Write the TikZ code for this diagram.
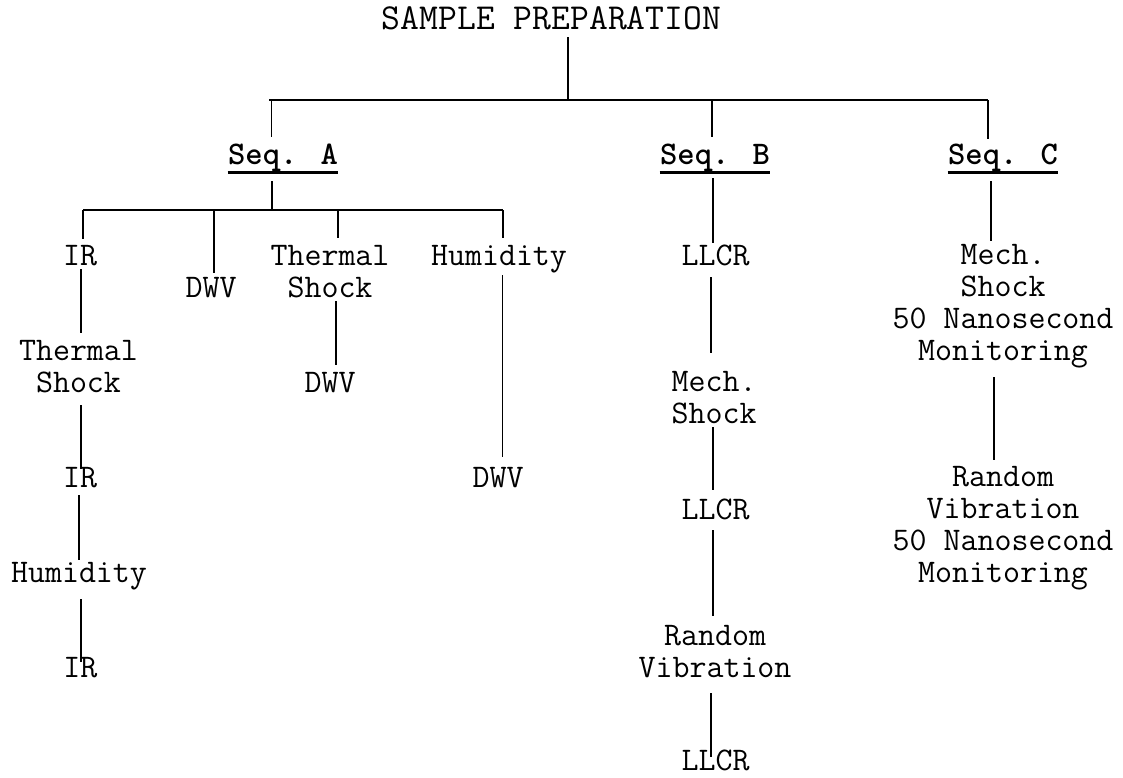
\documentclass[tikz,border=0pt]{standalone}
\usepackage{fontspec}
\usetikzlibrary{calc}
\tikzset{
  lbl/.style={anchor=base, inner sep=0pt, outer sep=0pt, align=center,
    font=\ttfamily\fontsize{33}{31.7}\selectfont},
  ttl/.style={lbl, font=\ttfamily\fontsize{36.6}{40}\selectfont},
  seq/.style={lbl, font=\ttfamily\bfseries\fontsize{33}{31.7}\selectfont},
  conn/.style={line width=1.8pt},
  uline/.style={line width=3pt},
}
\begin{document}
\begin{tikzpicture}[x=1pt,y=1pt]
\useasboundingbox (0,0) rectangle (1123,-777);
% nodes (multi-line nodes are placed at the baseline of their last line)
\node[ttl] (root) at (551.5,-29) {SAMPLE PREPARATION};
\node[seq] (sA) at (283,-164) {Seq. A};
\node[seq] (sB) at (715,-164) {Seq. B};
\node[seq] (sC) at (1003,-164) {Seq. C};
\node[lbl] (a1) at (80,-265) {IR};
\node[lbl] (a2) at (78.5,-392) {Thermal\\Shock};
\node[lbl] (a3) at (80,-487) {IR};
\node[lbl] (a4) at (79,-582) {Humidity};
\node[lbl] (a5) at (80.3,-677) {IR};
\node[lbl] (d1) at (211,-297) {DWV};
\node[lbl] (t1) at (330,-297) {Thermal\\Shock};
\node[lbl] (d2) at (330,-392) {DWV};
\node[lbl] (h1) at (499,-265) {Humidity};
\node[lbl] (d3) at (498,-487) {DWV};
\node[lbl] (b1) at (715.5,-265) {LLCR};
\node[lbl] (b2) at (714,-423) {Mech.\\Shock};
\node[lbl] (b3) at (715.5,-519) {LLCR};
\node[lbl] (b4) at (715,-677) {Random\\Vibration};
\node[lbl] (b5) at (715.5,-770) {LLCR};
\node[lbl] (c1) at (1003,-360) {Mech.\\Shock\\50 Nanosecond\\Monitoring};
\node[lbl] (c2) at (1003,-582) {Random\\Vibration\\50 Nanosecond\\Monitoring};
% underlines
\foreach \s in {sA,sB,sC}
  \draw[uline] ($(\s.base west)+(-0.5,-8.5)$) -- ($(\s.base east)+(0.5,-8.5)$);
% junction coordinates
\coordinate (barL) at (269,-100);
\coordinate (barR) at (987.7,-100);
\coordinate (jR) at (567.7,-100);
\coordinate (jA) at (271.5,-100);
\coordinate (jB) at (711.7,-100);
\coordinate (kL) at (83,-210);
\coordinate (kA) at (272,-210);
\coordinate (k2) at (214,-210);
\coordinate (k3) at (338,-210);
\coordinate (kR) at (503,-210);
% connectors
\draw[conn] ($(root.base)+(16.2,-8)$) -- (jR);
\draw[conn] (barL) -- (barR);
\draw[conn] (jA) -- ($(sA.base)+(-11.5,27)$);
\draw[conn] (jB) -- ($(sB.base)+(-3.3,27)$);
\draw[conn] (barR) -- ($(sC.base)+(-15.3,25)$);
\draw[conn] ($(sA.base)+(-11,-17)$) -- (kA);
\draw[conn] (kL) -- (kR);
\draw[conn] (kL) -- ($(a1.base)+(3,26)$);
\draw[conn] (k2) -- ($(d1.base)+(3,24)$);
\draw[conn] (k3) -- ($(t1.base)+(8,59)$);
\draw[conn] (kR) -- ($(h1.base)+(4,27)$);
\draw[conn] ($(a1.base)+(0.7,-4)$) -- ($(a2.base)+(2.2,59)$);
\draw[conn] ($(a2.base)+(2.2,-13)$) -- ($(a3.base)+(0.7,18)$);
\draw[conn] ($(a3.base)+(-0.7,-8)$) -- ($(a4.base)+(0.3,22)$);
\draw[conn] ($(a4.base)+(2.3,-17)$) -- ($(a5.base)+(1,15)$);
\draw[conn] ($(t1.base)+(5.6,-4)$) -- ($(d2.base)+(5.6,27)$);
\draw[conn] ($(h1.base)+(3.5,-10)$) -- ($(d3.base)+(4.5,30)$);
\draw[conn] ($(sB.base)+(-2,-14)$) -- ($(b1.base)+(-2.5,22)$);
\draw[conn] ($(b1.base)+(-4.8,-12)$) -- ($(b2.base)+(-3.3,70)$);
\draw[conn] ($(b2.base)+(-1,-4)$) -- ($(b3.base)+(-2.5,29)$);
\draw[conn] ($(b3.base)+(-2.5,-11)$) -- ($(b4.base)+(-2,61)$);
\draw[conn] ($(b4.base)+(-4.3,-16)$) -- ($(b5.base)+(-4.8,13)$);
\draw[conn] ($(sC.base)+(-12,-17)$) -- ($(c1.base)+(-12,119)$);
\draw[conn] ($(c1.base)+(-9,-17)$) -- ($(c2.base)+(-9,122)$);
\end{tikzpicture}
\end{document}
